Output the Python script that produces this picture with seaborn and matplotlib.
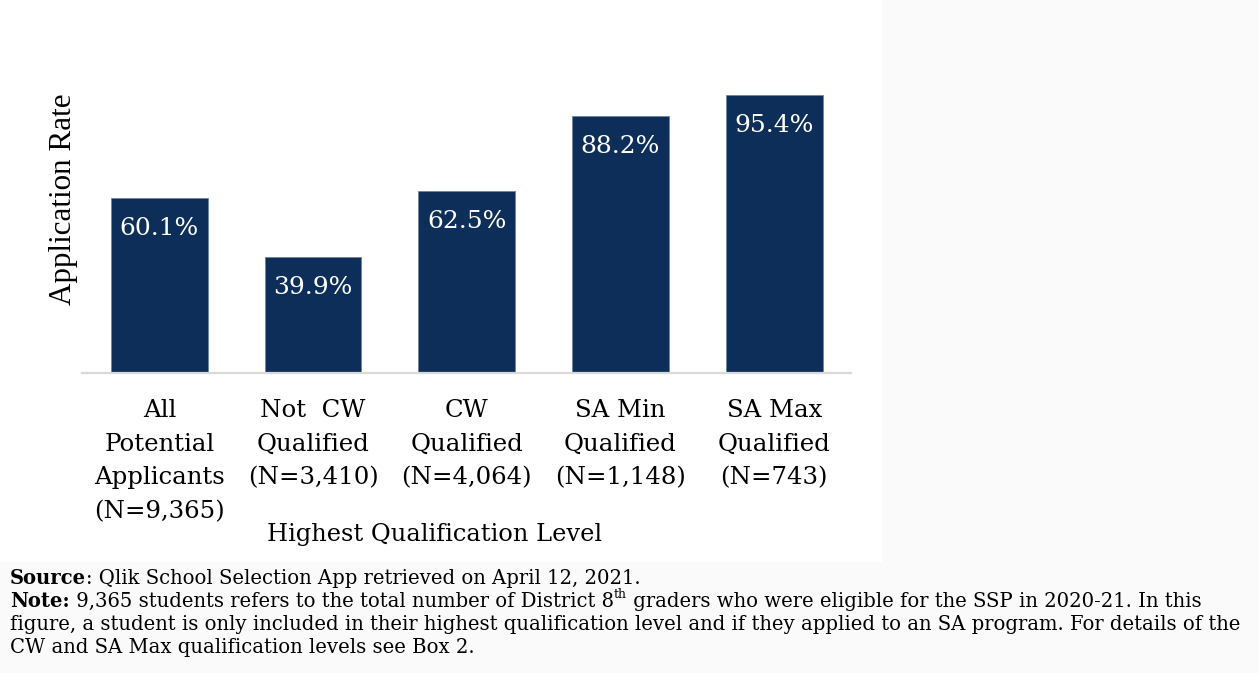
import matplotlib
matplotlib.use("Agg")
import matplotlib.pyplot as plt
import matplotlib.patches as mpatches
import seaborn as sns
import pandas as pd

# chart data
categories = [
    "All\nPotential\nApplicants\n(N=9,365)",
    "Not  CW\nQualified\n(N=3,410)",
    "CW\nQualified\n(N=4,064)",
    "SA Min\nQualified\n(N=1,148)",
    "SA Max\nQualified\n(N=743)",
]
rates = [60.1, 39.9, 62.5, 88.2, 95.4]

x_title = "Highest Qualification Level"
y_title = "Application Rate"
# (text, bold, superscript)
source_line = [("Source", True, False),
               (": Qlik School Selection App retrieved on April 12, 2021.", False, False)]
note_first = [("Note:", True, False),
              (" 9,365 students refers to the total number of District 8", False, False),
              ("th", False, True),
              (" graders who were eligible for the SSP in 2020-21. In this", False, False)]
note_rest = [
    "figure, a student is only included in their highest qualification level and if they applied to an SA program. For details of the",
    "CW and SA Max qualification levels see Box 2.",
]

BAR = "#0d2e58"
W, H = 1259, 673
NOTE_FS = 14.1

sns.set_style("white")
plt.rcParams["font.family"] = ["DejaVu Serif"]
plt.rcParams["text.color"] = "black"
plt.rcParams["xtick.color"] = "black"

fig = plt.figure(figsize=(W / 100, H / 100), dpi=100, facecolor="#fafafa")
# white chart area
fig.patches.append(mpatches.Rectangle((0, 1 - 562 / H), 882 / W, 562 / H,
                                      transform=fig.transFigure, facecolor="white",
                                      edgecolor="none", zorder=-1))

ax = fig.add_axes([82.5 / W, 1 - 373 / H, (851 - 82.5) / W, (373 - 81.6) / H])
ax.set_zorder(2)
ax.set_facecolor("none")

df = pd.DataFrame({"level": categories, "rate": rates})
sns.barplot(data=df, x="level", y="rate", color=BAR, saturation=1, width=0.63,
            edgecolor="#6d84a3", linewidth=0.6, ax=ax)

for i, v in enumerate(rates):
    ax.annotate(f"{v}%", (i, v), xytext=(0, -14), textcoords="offset points",
                ha="center", va="top", color="white", fontsize=18)

ax.set_xlim(-0.5, 4.5)
ax.set_ylim(0, 100)
ax.set_xlabel("")
ax.set_ylabel("")
ax.set_yticks([])
ax.set_xticks(range(len(categories)))
ax.set_xticklabels(categories, linespacing=1.58)
for s in ["top", "right", "left"]:
    ax.spines[s].set_visible(False)
ax.spines["bottom"].set_color("#d9d9d9")
ax.spines["bottom"].set_linewidth(1.6)
ax.tick_params(axis="x", length=0, pad=19, labelsize=17.6, labelcolor="black")

fig.text(63 / W, 1 - 199 / H, y_title, rotation=90, ha="center", va="center",
         fontsize=22.4, family=["Liberation Serif", "DejaVu Serif"])
fig.text(434.5 / W, 1 - 535 / H, x_title, ha="center", va="center", fontsize=17.4)


def rich_line(y_px, pieces):
    # first piece at the left margin, following pieces chained to the previous one
    text, bold, sup = pieces[0]
    base = fig.text(10 / W, 1 - y_px / H, text, ha="left", va="baseline",
                    fontsize=NOTE_FS, fontweight="bold" if bold else "normal")
    prev = base
    for text, bold, sup in pieces[1:]:
        if sup:
            prev = ax.annotate(text, xy=(1, 0.5), xycoords=prev, ha="left", va="bottom",
                               fontsize=9, annotation_clip=False)
        else:
            prev = ax.annotate(text, xy=(1, 0), xycoords=(prev, base), ha="left", va="bottom",
                               fontsize=NOTE_FS, fontweight="bold" if bold else "normal",
                               annotation_clip=False)
            base = prev


rich_line(584, source_line)
rich_line(607, note_first)
for k, line in enumerate(note_rest):
    fig.text(10 / W, 1 - (630 + 23 * k) / H, line, ha="left", va="baseline", fontsize=NOTE_FS)

fig.savefig("out.png", dpi=100, facecolor=fig.get_facecolor())
